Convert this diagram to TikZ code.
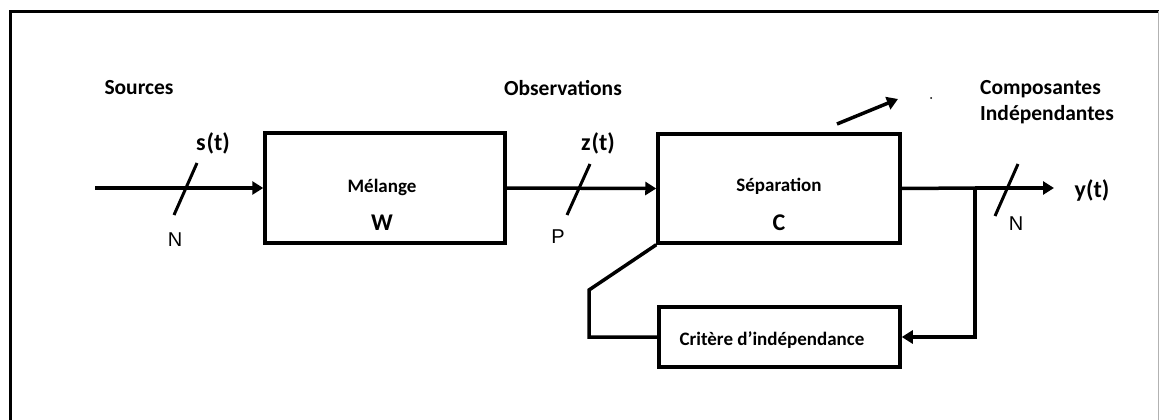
\documentclass[tikz,border=0pt]{standalone}
\usepackage{fontspec}
\setmainfont{Carlito}
\newfontfamily\arialf{Liberation Sans}
\usetikzlibrary{arrows.meta}
\begin{document}
\begin{tikzpicture}[x=1pt,y=-1pt,
  blk/.style={draw,line width=3.5pt,minimum width=#1,inner sep=0pt},
  lbl/.style={font=\fontsize{21.5}{26}\selectfont\bfseries,inner sep=0pt},
  sig/.style={font=\fontsize{24}{28}\selectfont\bfseries,inner sep=0pt},
  boxlbl/.style={font=\fontsize{19}{23}\selectfont\bfseries,inner sep=0pt},
  nlbl/.style={font=\arialf\fontsize{20}{24}\selectfont,inner sep=0pt},
  wire/.style={line width=3.5pt},
  arr/.style={line width=3.5pt,-{Triangle[length=11pt,width=13pt]}},
  tick/.style={line width=3pt}]
\useasboundingbox (0,0) rectangle (1159,420);
\fill[white] (0,0) rectangle (1159,420);
% frame
\draw[line width=3.5pt] (10.5,420) -- (10.5,11.5) -- (1159,11.5);
\draw[gray!60,line width=1pt] (1158,11.5) -- (1158,420);
% boxes
\node[blk=240pt,minimum height=110pt] (mel) at (385,188) {};
\node[blk=242pt,minimum height=109pt] (sep) at (779,188.5) {};
\node[blk=241pt,minimum height=60pt] (crit) at (779.5,337) {};
\node[boxlbl] (melt) at (382,187) {Mélange};
\node[sig] (w) at (382,223) {W};
\node[boxlbl] (sept) at (779,186) {Séparation};
\node[sig] (c) at (779,223) {C};
\node[boxlbl] (critt) at (772,340) {Critère d’indépendance};
% labels
\node[lbl] (src) at (139,88) {Sources};
\node[lbl] (obs) at (563,88) {Observations};
\node[lbl,anchor=west,align=left] (comp) at (980,102) {Composantes\\Indépendantes};
\node[sig] (st) at (213,143) {s\kern1pt(t)};
\node[sig] (zt) at (598,143) {z\kern1pt(t)};
\node[sig] (yt) at (1092,190) {y(t)};
\node[nlbl] (n1) at (175,240) {N};
\node[nlbl] (p) at (558,237) {P};
\node[nlbl] (n2) at (1016,224) {N};
% coordinates
\coordinate (in) at (95,188);
\coordinate (br) at (975,188);
\coordinate (out) at (1054,188);
\coordinate (fb1) at (589,337);
\coordinate (fb2) at (589,290);
\coordinate (d1) at (837,124);
\coordinate (d2) at (898,99);
% connectors
\draw[arr] (in) -- (mel.west);
\draw[arr] (mel.east) -- (sep.west);
\draw[wire] (sep.east) -- (br);
\draw[arr] (br) -- (out);
\draw[arr] (br) |- (crit.east);
\draw[wire,line join=miter] (crit.west) -- (fb1) -- (fb2) -- (sep.south west);
\draw[arr] (d1) -- (d2);
\fill (931,98) circle (1pt);
% slashes
\draw[tick] (174,215) -- (197,163);
\draw[tick] (567,215) -- (590,164);
\draw[tick] (995,216) -- (1018,164);
\end{tikzpicture}
\end{document}
